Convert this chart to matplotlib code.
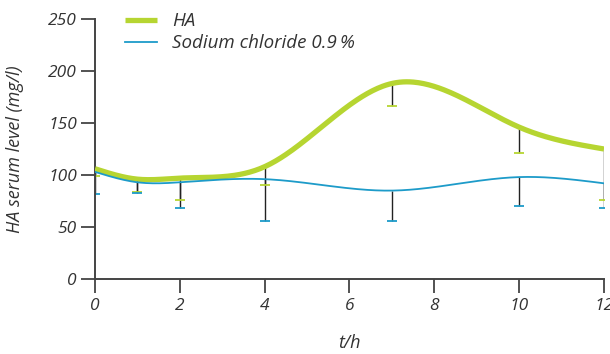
import numpy as np
import matplotlib.pyplot as plt

# sampling times (h)
t = [0, 1, 2, 4, 7, 10, 12]

# HA group: mean and SD (mg/l)
ha_mean = [106, 96, 97, 108, 188, 146, 125]
ha_sd = [7, 12, 21, 18, 22, 25, 49]

# sodium chloride 0.9 % group
nacl_mean = [103, 93, 93, 96, 85, 98, 92]
nacl_sd = [21, 10, 25, 40, 29, 28, 24]

green = '#b6d531'
blue = '#1d9bc9'
axcol = '#444444'
txtcol = '#333333'

plt.rcParams['font.family'] = ['Open Sans', 'DejaVu Sans']
plt.rcParams['font.style'] = 'italic'


def natural_spline(x, y, n=300):
    # natural cubic spline through the points, just to draw the smooth line
    x = np.asarray(x, float)
    y = np.asarray(y, float)
    k = len(x)
    h = np.diff(x)
    A = np.zeros((k, k))
    b = np.zeros(k)
    A[0, 0] = 1
    A[-1, -1] = 1
    for i in range(1, k - 1):
        A[i, i - 1] = h[i - 1]
        A[i, i] = 2 * (h[i - 1] + h[i])
        A[i, i + 1] = h[i]
        b[i] = 3 * ((y[i + 1] - y[i]) / h[i] - (y[i] - y[i - 1]) / h[i - 1])
    c = np.linalg.solve(A, b)
    xs = np.linspace(x[0], x[-1], n)
    idx = np.clip(np.searchsorted(x, xs) - 1, 0, k - 2)
    dx = xs - x[idx]
    hi = h[idx]
    bb = (y[idx + 1] - y[idx]) / hi - hi * (2 * c[idx] + c[idx + 1]) / 3
    dd = (c[idx + 1] - c[idx]) / (3 * hi)
    ys = y[idx] + bb * dx + c[idx] * dx ** 2 + dd * dx ** 3
    return xs, ys


fig = plt.figure(figsize=(6.1, 3.54), dpi=100)
ax = fig.add_axes([95 / 610, 75 / 354, 509 / 610, 260 / 354])

# lower error bars in black with coloured caps
tt = np.array(t)
for mean, sd, col in [(ha_mean, ha_sd, green), (nacl_mean, nacl_sd, blue)]:
    mean = np.array(mean)
    low = mean - np.array(sd)
    ax.vlines(tt, low, mean, color='#222222', lw=1.0, zorder=1)
    ax.plot(tt, low, ls='none', marker='_', ms=7, mew=1.3, color=col, zorder=2)

xs, ys = natural_spline(t, ha_mean)
ax.plot(xs, ys, color=green, lw=3.8, solid_capstyle='butt', label='HA', zorder=3)
xs, ys = natural_spline(t, nacl_mean)
ax.plot(xs, ys, color=blue, lw=1.3, label='Sodium chloride 0.9\u2009%', zorder=4)

ax.set_xlim(0, 12)
ax.set_ylim(0, 250)
ax.set_xticks(range(0, 13, 2))
ax.set_yticks(range(0, 251, 50))
ax.spines['top'].set_visible(False)
ax.spines['right'].set_visible(False)
for s in ['left', 'bottom']:
    ax.spines[s].set_color(axcol)
    ax.spines[s].set_linewidth(1.4)
ax.tick_params(axis='both', direction='out', length=10, width=1.3, color=axcol,
               labelsize=12.5, labelcolor=txtcol)
ax.tick_params(axis='y', pad=3)
ax.tick_params(axis='x', pad=4)
for lab in ax.get_xticklabels() + ax.get_yticklabels():
    lab.set_fontstyle('italic')

ax.set_xlabel('t/h', fontsize=13, color=txtcol, style='italic', labelpad=14)
ax.set_ylabel('HA serum level (mg/l)', fontsize=13, color=txtcol, style='italic', labelpad=17)

ax.legend(loc='upper left', bbox_to_anchor=(116 / 610, 1 - 3 / 354),
          bbox_transform=fig.transFigure, frameon=False,
          handlelength=1.7, handletextpad=0.8, labelspacing=0.2, borderpad=0,
          labelcolor=txtcol, prop={'style': 'italic', 'size': 13.5})

fig.savefig('out.png', dpi=100)
